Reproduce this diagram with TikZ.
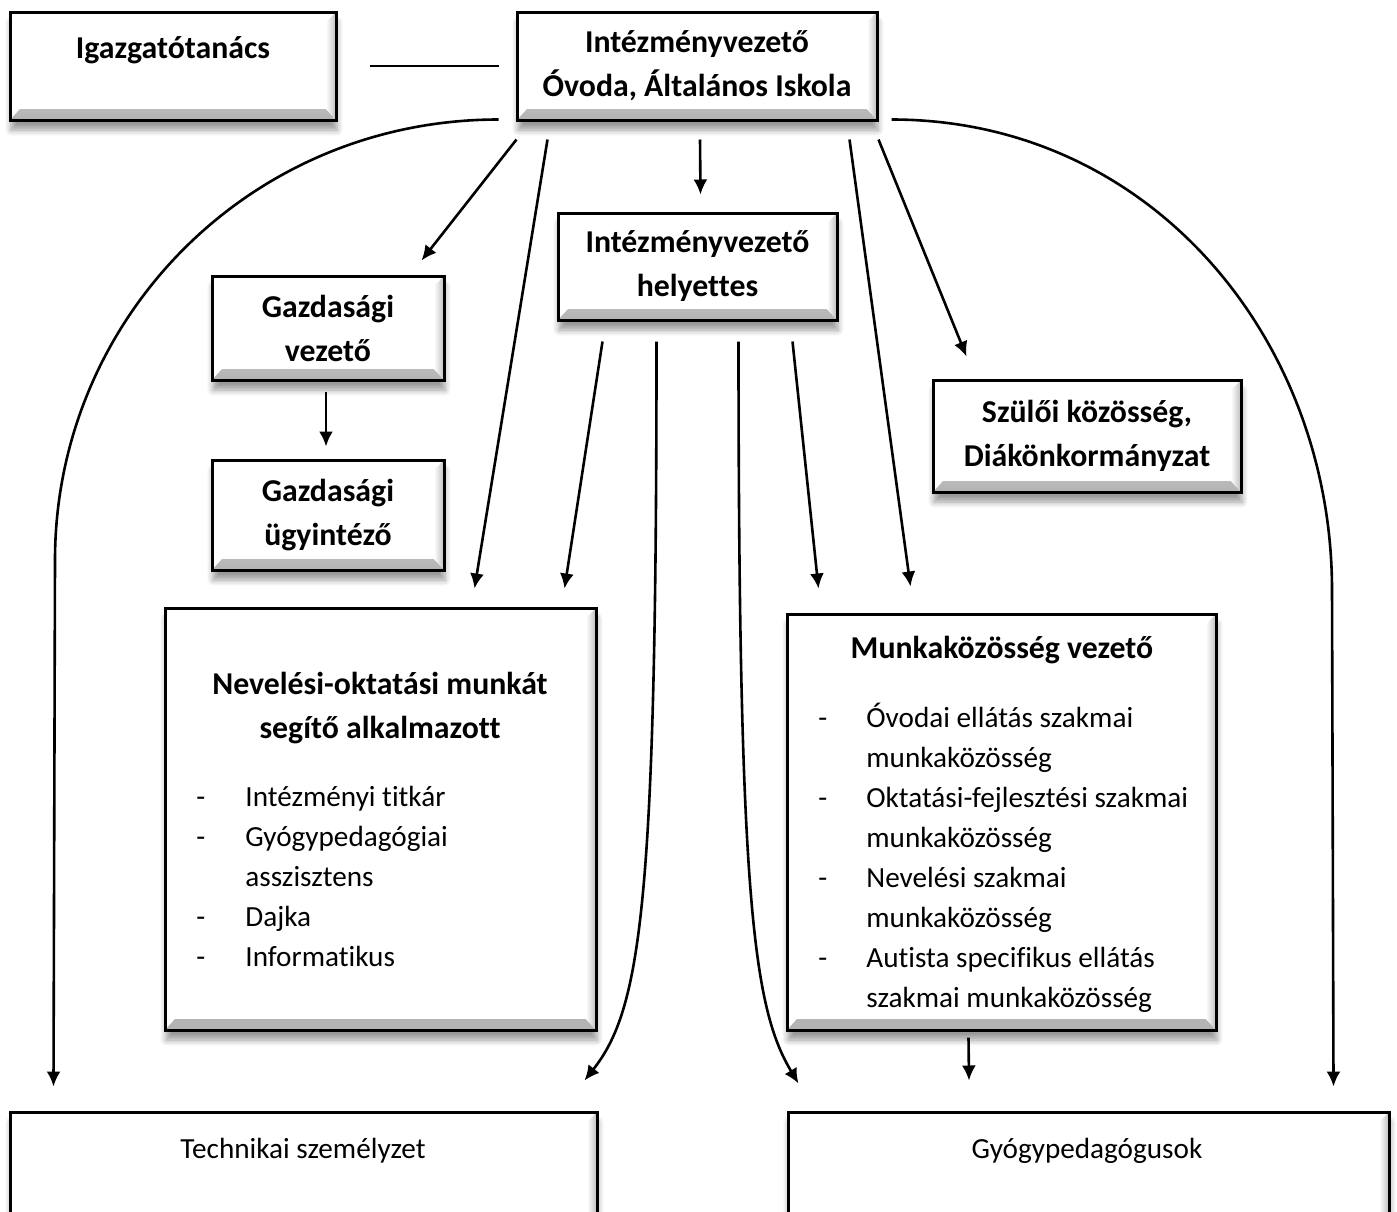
\documentclass[tikz,border=0pt]{standalone}
\usepackage{fontspec}
\setmainfont{Carlito}[Ligatures=NoCommon]
\usetikzlibrary{arrows.meta, shadows.blur}

\tikzset{
  box/.style={draw, line width=1.5pt, fill=white, inner sep=0pt,
    blur shadow={shadow xshift=0.5pt, shadow yshift=-5pt, shadow blur steps=6,
      shadow blur radius=3pt, shadow opacity=40},
    path picture={
      % bevel, bottom and right
      \shade[top color=white, bottom color=black!30]
        (path picture bounding box.south west) -- (path picture bounding box.south east)
        -- ([shift={(-5pt,5.5pt)}]path picture bounding box.south east)
        -- ([shift={(5pt,5.5pt)}]path picture bounding box.south west) -- cycle;
      \shade[left color=white, right color=black!26]
        (path picture bounding box.north east) -- ([shift={(-5pt,-5pt)}]path picture bounding box.north east)
        -- ([shift={(-5pt,5.5pt)}]path picture bounding box.south east)
        -- (path picture bounding box.south east) -- cycle;
    }},
  title/.style={font=\fontsize{15.9}{22}\selectfont\bfseries, align=center},
  item/.style={font=\fontsize{14.6}{20}\selectfont, inner sep=0pt, anchor=base west},
  conn/.style={-{Latex[length=7.5pt, width=7pt]}, line width=1.3pt}
}

\begin{document}
\begin{tikzpicture}[x=0.5pt, y=-0.5pt]
  \clip (0,0) rectangle (1397,1211);

  % boxes
  \node[box, minimum width=163pt, minimum height=54pt] (igaz) at (173,66) {};
  \node[title] (igaztxt) at (173,50) {Igazgatótanács};
  \node[box, title, minimum width=180pt, minimum height=54pt] (top) at (697,66)
    {Intézményvezető\\Óvoda, Általános Iskola};
  \node[box, title, minimum width=139.5pt, minimum height=53.5pt] (hely) at (697.5,266.5)
    {Intézményvezető\\helyettes};
  \node[box, title, minimum width=116pt, minimum height=52pt] (gazdv) at (328,328)
    {Gazdasági\\vezető};
  \node[box, title, minimum width=116pt, minimum height=55pt] (gazdu) at (328,515)
    {Gazdasági\\ügyintéző};
  \node[box, title, minimum width=154pt, minimum height=56pt] (szul) at (1087,436)
    {Szülői közösség,\\Diákönkormányzat};
  \node[box, minimum width=215.5pt, minimum height=211pt] (nev) at (380.5,819) {};
  \node[box, minimum width=214.5pt, minimum height=208pt] (munka) at (1001.5,822) {};
  \node[box, minimum width=293.5pt, minimum height=64pt] (tech) at (303.5,1176) {};
  \node[box, minimum width=300.5pt, minimum height=64pt] (gyogy) at (1088.5,1176) {};

  % texts
  \node[title] (nevtitle) at (380,708) {Nevelési-oktatási munkát\\segítő alkalmazott};
  \foreach \yy/\txt [count=\n] in {806/Intézményi titkár, 846/Gyógypedagógiai,
      886/asszisztens, 926/Dajka, 966/Informatikus}
    \node[item] (nevitem\n) at (245,\yy) {\txt};
  \foreach \yy [count=\n] in {806,846,926,966}
    \node[item] (nevdash\n) at (196,\yy) {-};

  \node[title] (munkatitle) at (1002,650) {Munkaközösség vezető};
  \foreach \yy/\txt [count=\n] in {727/Óvodai ellátás szakmai, 767/munkaközösség,
      807/Oktatási-fejlesztési szakmai, 847/munkaközösség,
      887/Nevelési szakmai, 927/munkaközösség,
      967/Autista specifikus ellátás, 1007/szakmai munkaközösség}
    \node[item] (munkaitem\n) at (866,\yy) {\txt};
  \foreach \yy [count=\n] in {727,807,887,967}
    \node[item] (munkadash\n) at (818,\yy) {-};

  \node[item, anchor=center] (techtxt) at (303,1151) {Technikai személyzet};
  \node[item, anchor=center] (gyogytxt) at (1087,1151) {Gyógypedagógusok};

  % connectors
  \draw[line width=1.3pt] ([shift={(32,0)}]igaz.east) -- ([shift={(-17,0)}]top.west);
  \draw[conn] ([shift={(1,18)}]top.south west) -- ([shift={(-24,-14)}]gazdv.north east);
  \draw[conn] ([shift={(32,18)}]top.south west) -- ([shift={(311,-18)}]nev.north west);
  \draw[conn] ([shift={(3,18)}]top.south) -- ([shift={(3,-17)}]hely.north);
  \draw[conn] ([shift={(-29,18)}]top.south east) -- ([shift={(125,-26)}]munka.north west);
  \draw[conn] ([shift={(0,18)}]top.south east) -- ([shift={(35,-22)}]szul.north west);
  \draw[conn] ([shift={(-2,10)}]gazdv.south) -- ([shift={(-2,-12)}]gazdu.north);

  \coordinate (lbend) at (55,560);
  \coordinate (rbend) at (1332,590);
  \draw[conn] ([shift={(-17,-2)}]top.south west) .. controls +(-250,0) and +(0,-240) .. (lbend)
    -- ([shift={(45,-24)}]tech.north west);
  \draw[conn] ([shift={(13,-2)}]top.south east) .. controls +(260,0) and +(0,-250) .. (rbend)
    -- ([shift={(-57,-24)}]gyogy.north east);

  \draw[conn] ([shift={(46,20)}]hely.south west) -- ([shift={(-33,-18)}]nev.north east);
  \draw[conn] ([shift={(-46,20)}]hely.south east) -- ([shift={(33,-24)}]munka.north west);
  \draw[conn] ([shift={(100,20)}]hely.south west) .. controls +(0,560) and +(57,-72)
    .. ([shift={(-14,-30)}]tech.north east);
  \draw[conn] ([shift={(-100,20)}]hely.south east) .. controls +(0,560) and +(-45,-75)
    .. ([shift={(12,-27)}]gyogy.north west);
  \draw[conn] ([shift={(-33,6)}]munka.south) -- ([shift={(-119.5,-30)}]gyogy.north);
\end{tikzpicture}
\end{document}
